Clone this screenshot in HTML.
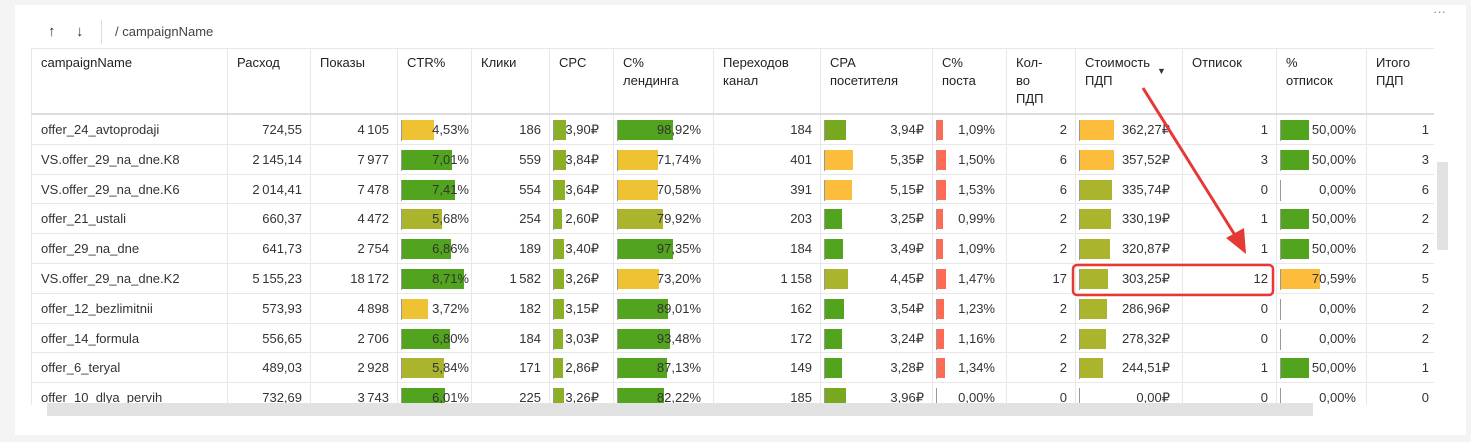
<!DOCTYPE html>
<html><head><meta charset="utf-8"><style>
body{margin:0;width:1471px;height:442px;background:#f4f4f4;font-family:"Liberation Sans",sans-serif;overflow:hidden;position:relative}
#panel{position:absolute;left:15px;top:5px;width:1451px;height:430px;background:#fff}
.t{position:absolute;font-size:13px;color:#333;white-space:nowrap}
.h{position:absolute;font-size:13px;color:#222;line-height:18px}
.bar{position:absolute;height:20px}
.vl{position:absolute;background:#e8e8e8}
</style></head><body>
<div id="panel"></div>
<div class="t" style="left:48px;top:23px;font-size:15px">↑</div>
<div class="t" style="left:76px;top:23px;font-size:15px">↓</div>
<div style="position:absolute;left:101px;top:20px;width:1px;height:24px;background:#ddd"></div>
<div class="t" style="left:115px;top:24px;color:#444">/ campaignName</div>
<div class="t" style="left:1433px;top:4px;color:#888">···</div>
<div id="tbl" style="position:absolute;left:0;top:0;width:1434px;height:405px;overflow:hidden"></div>
<div style="position:absolute;left:47px;top:403px;width:1266px;height:13px;background:#e2e2e2"></div>
<div style="position:absolute;left:1437px;top:162px;width:11px;height:88px;background:#e2e2e2"></div>
<svg style="position:absolute;left:0;top:0" width="1471" height="442">
<line x1="1143" y1="88" x2="1238" y2="240" stroke="#e53935" stroke-width="3"/>
<polygon points="1246,254 1226,238 1244,228" fill="#e53935"/>
<rect x="1073" y="265" width="200" height="30" rx="4" fill="none" stroke="#e53935" stroke-width="2.5"/>
</svg>
<script>
const headers=[["campaignName"],["Расход"],["Показы"],["CTR%"],["Клики"],["CPC"],["C%","лендинга"],["Переходов","канал"],["CPA","посетителя"],["C%","поста"],["Кол-","во","ПДП"],["Стоимость","ПДП"],["Отписок"],["%","отписок"],["Итого","ПДП"]];
const names=["offer_24_avtoprodaji","VS.offer_29_na_dne.K8","VS.offer_29_na_dne.K6","offer_21_ustali","offer_29_na_dne","VS.offer_29_na_dne.K2","offer_12_bezlimitnii","offer_14_formula","offer_6_teryal","offer_10_dlya_pervih"];
const spend=[724.55,2145.14,2014.41,660.37,641.73,5155.23,573.93,556.65,489.03,732.69];
const shows=[4105,7977,7478,4472,2754,18172,4898,2706,2928,3743];
const ctr=[4.53,7.01,7.41,5.68,6.86,8.71,3.72,6.80,5.84,6.01];
const clicks=[186,559,554,254,189,1582,182,184,171,225];
const cpc=[3.90,3.84,3.64,2.60,3.40,3.26,3.15,3.03,2.86,3.26];
const landing=[98.92,71.74,70.58,79.92,97.35,73.20,89.01,93.48,87.13,82.22];
const visits=[184,401,391,203,184,1158,162,172,149,185];
const cpa=[3.94,5.35,5.15,3.25,3.49,4.45,3.54,3.24,3.28,3.96];
const post=[1.09,1.50,1.53,0.99,1.09,1.47,1.23,1.16,1.34,0.00];
const leads=[2,6,6,2,2,17,2,2,2,0];
const leadCost=[362.27,357.52,335.74,330.19,320.87,303.25,286.96,278.32,244.51,0.00];
const unsub=[1,3,0,1,1,12,0,0,1,0];
const unsubPct=[50.00,50.00,0.00,50.00,50.00,70.59,0.00,0.00,50.00,0.00];
const total=[1,3,6,2,2,5,2,2,1,0];
const colX=[31,227,310,397,471,549,613,713,820,932,1006,1075,1182,1276,1366,1434];
const tbl=document.getElementById('tbl');
function fmt(v,d){let s=v.toFixed(d).split('.');s[0]=s[0].replace(/\B(?=(\d{3})+(?!\d))/g,'\u2009');return s.length>1?s[0]+','+s[1]:s[0];}
const G='#52a31e',O='#aab42c',Y='#eec232',OR='#fbbd3b',R='#ff6a55',LG='#78a820';
function add(cls,txt,st){const d=document.createElement('div');d.className=cls;if(txt!==null)d.textContent=txt;d.style.cssText=st;tbl.appendChild(d);return d;}
add('vl',null,'left:31px;top:48px;width:1403px;height:1px');
headers.forEach((h,i)=>{const d=add('h',null,'left:'+(colX[i]+10)+'px;top:54px');d.innerHTML=h.join('<br>');


add('vl',null,'left:'+colX[i]+'px;top:48px;width:1px;height:360px');});
add('t','▼','left:1157px;top:66px;font-size:9px');
add('vl',null,'left:31px;top:113px;width:1403px;height:2px;background:#ddd');
const rowTop=115,rowH=29.8;
const bars=[
 {col:3,arr:ctr,w:v=>v/8.71*62,c:v=>v<5?Y:v<6?O:G,suf:'%',pad:2},
 {col:5,arr:cpc,w:v=>v/3.9*12,c:v=>'#8bb026',suf:'₽',pad:14},
 {col:6,arr:landing,w:v=>v/100*56,c:v=>v<75?Y:v<81?O:G,suf:'%',pad:12},
 {col:8,arr:cpa,w:v=>v/5.35*28,c:v=>v>5?OR:v>4.2?O:v>3.9?LG:G,suf:'₽',pad:8},
 {col:9,arr:post,w:v=>v/1.53*9,c:v=>R,suf:'%',pad:11},
 {col:11,arr:leadCost,w:v=>v/362.27*34,c:v=>v>350?OR:O,suf:'₽',pad:12},
 {col:13,arr:unsubPct,w:v=>v/70.59*39,c:v=>v>60?OR:G,suf:'%',pad:10}];
const plain=[{col:1,arr:spend,d:2,pad:8},{col:2,arr:shows,d:0,pad:8},{col:4,arr:clicks,d:0,pad:8},{col:7,arr:visits,d:0,pad:8},{col:10,arr:leads,d:0,pad:8},{col:12,arr:unsub,d:0,pad:8},{col:14,arr:total,d:0,pad:5}];
names.forEach((n,r)=>{const y=rowTop+r*rowH;const cy=y+rowH/2;
 add('vl',null,'left:31px;top:'+(y+rowH-1)+'px;width:1403px;height:1px');
 const nm=add('t',n,'left:41px;top:'+(cy-8)+'px');
 
 
 plain.forEach(p=>{const e=add('t',fmt(p.arr[r],p.d),'left:0;width:'+(colX[p.col+1]-p.pad)+'px;text-align:right;top:'+(cy-8)+'px');
  
  });
 bars.forEach(b=>{const x0=colX[b.col]+4;const v=b.arr[r];
  add('vl',null,'left:'+x0+'px;top:'+(cy-10)+'px;width:1px;height:21px;background:#999');
  const bar=add('bar',null,'left:'+(x0+1)+'px;top:'+(cy-10)+'px;width:'+Math.max(0,b.w(v))+'px;background:'+b.c(v));
  
  
  const e=add('t',fmt(v,2)+b.suf,'left:0;width:'+(colX[b.col+1]-b.pad)+'px;text-align:right;top:'+(cy-8)+'px');
  
  });
});
</script>
</body></html>
